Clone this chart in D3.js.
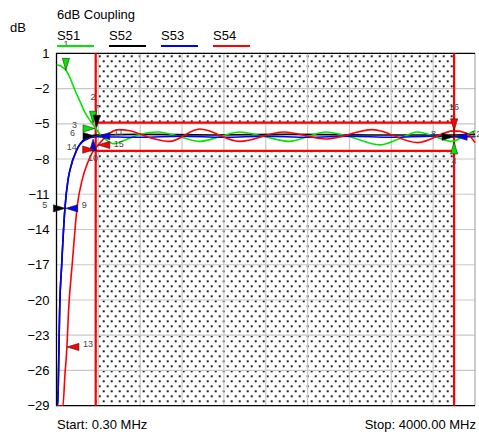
<!DOCTYPE html>
<html>
<head>
<meta charset="utf-8">
<script src="https://cdn.jsdelivr.net/npm/d3@7"></script>
<style>
  body { margin: 0; background: #fff; }
  svg { display: block; font-family: Arial, "Liberation Sans", sans-serif; }
</style>
</head>
<body>
<div id="chart"></div>
<script>
// ---- data ----
const chartTitle = "6dB Coupling";
const traceNames = ["S51", "S52", "S53", "S54"];
const traceColors = ["#00e600", "#000000", "#0000ff", "#ff0000"];
const yTicks = [1, -2, -5, -8, -11, -14, -17, -20, -23, -26, -29];
const startMHz = 0.3, stopMHz = 4000;
const limitFreqs = [375, 3800];      // vertical limit lines (MHz)
const limitDb = [-4.9, -7.3];        // upper / lower limit (dB)

// S51 (green)
const s51Freq = [0.3, 35, 60, 90, 130, 175, 225, 270, 320, 370, 415, 475, 550, 650, 800, 970, 1180, 1370, 1560, 1750, 1990, 2230, 2400, 2570, 2800, 3090, 3270, 3450, 3620, 3780, 3900, 4000];
const s51Db   = [0.0, -0.05, -0.2, -0.45, -1.1, -2.1, -3.1, -4.0, -4.7, -5.3, -5.9, -6.4, -6.7, -6.4, -5.9, -5.7, -6.1, -6.5, -6.1, -5.7, -6.1, -6.5, -6.1, -5.7, -6.1, -6.8, -6.3, -5.7, -6.1, -6.5, -6.0, -5.6];
// S52 (black)
const s52Freq = [0.3, 12, 20, 30, 50, 80, 110, 130, 195, 270, 385, 800, 1500, 2200, 3000, 3800, 4000];
const s52Db   = [-29, -29, -26, -21, -17, -12.3, -9.8, -8.9, -7.2, -6.3, -5.95, -5.9, -5.95, -5.9, -5.95, -5.95, -5.9];
// S53 (blue)
const s53Freq = [0.3, 12, 20, 30, 50, 80, 110, 130, 195, 270, 385, 800, 1200, 1600, 2000, 2400, 2800, 3200, 3600, 3800, 4000];
const s53Db   = [-29, -29, -26, -21, -17, -12.3, -9.8, -8.9, -7.2, -6.4, -6.1, -6.15, -6.05, -6.15, -6.05, -6.15, -6.05, -6.15, -6.05, -6.1, -6.1];
// S54 (red)
const s54Freq = [0.3, 62, 80, 100, 115, 150, 200, 245, 290, 340, 400, 480, 600, 700, 900, 1080, 1370, 1750, 2170, 2580, 3020, 3450, 3800, 3920, 4000];
const s54Db   = [-29, -29, -26.5, -24, -21, -17, -11.9, -9.8, -8.5, -7.5, -6.8, -6.0, -5.5, -5.6, -6.2, -6.5, -5.45, -6.5, -5.7, -6.3, -5.5, -6.6, -5.6, -5.8, -6.6];

// markers: id, trace index, frequency, level, triangle pointing direction
const markerIds    = [1, 2, 3, 4, 5, 6, 7, 8, 9, 10, 11, 12, 13, 14, 15, 16];
const markerTrace  = [0, 0, 0, 0, 1, 1, 1, 1, 2, 2, 2, 2, 3, 3, 3, 3];
const markerFreq   = [90, 350, 368, 3800, 85, 368, 385, 3800, 88, 350, 395, 3810, 100, 365, 395, 3800];
const markerDb     = [-0.45, -4.95, -5.4, -6.55, -12.2, -6.05, -5.3, -6.1, -12.2, -6.3, -6.05, -6.1, -24.0, -7.2, -6.8, -5.6];
const markerDir    = ["down", "down", "right", "up", "right", "right", "down", "right", "left", "up", "left", "left", "left", "right", "left", "down"];

// ---- layout ----
const W = 479, H = 434;
const plot = { left: 56.5, right: 475, top: 53.3, bottom: 405.7 };

const svg = d3.select("#chart").append("svg")
    .attr("width", W)
    .attr("height", H);

const x = d3.scaleLinear().domain([startMHz, stopMHz]).range([plot.left, plot.right]);
const y = d3.scaleLinear().domain([1, -29]).range([plot.top, plot.bottom]);

// dotted fill pattern
const defs = svg.append("defs");
const pat = defs.append("pattern")
    .attr("id", "dots")
    .attr("patternUnits", "userSpaceOnUse")
    .attr("width", 8).attr("height", 10)
    .attr("x", x(limitFreqs[0]) + 1).attr("y", plot.top);
pat.append("rect").attr("x", 2).attr("y", 2).attr("width", 2).attr("height", 2).attr("fill", "#222");
pat.append("rect").attr("x", 6).attr("y", 7).attr("width", 2).attr("height", 2).attr("fill", "#222");

defs.append("clipPath").attr("id", "plotClip")
    .append("rect")
    .attr("x", plot.left).attr("y", plot.top - 14)
    .attr("width", plot.right - plot.left + 10)
    .attr("height", plot.bottom - plot.top + 14);

// fail regions
svg.append("rect")
    .attr("x", x(limitFreqs[0])).attr("y", plot.top)
    .attr("width", x(limitFreqs[1]) - x(limitFreqs[0]))
    .attr("height", y(limitDb[0]) - plot.top)
    .attr("fill", "url(#dots)");
svg.append("rect")
    .attr("x", x(limitFreqs[0])).attr("y", y(limitDb[1]))
    .attr("width", x(limitFreqs[1]) - x(limitFreqs[0]))
    .attr("height", plot.bottom - y(limitDb[1]))
    .attr("fill", "url(#dots)");

// grid
const grid = svg.append("g").attr("class", "grid");
grid.selectAll("line.h")
    .data(yTicks.slice(1, -1))
    .enter().append("line")
    .attr("class", "h")
    .attr("x1", plot.left).attr("x2", plot.right)
    .attr("y1", d => y(d)).attr("y2", d => y(d))
    .attr("stroke", "#c8c8c8").attr("stroke-width", 1.2);
grid.selectAll("line.v")
    .data(d3.range(1, 10).map(i => startMHz + i * (stopMHz - startMHz) / 10))
    .enter().append("line")
    .attr("class", "v")
    .attr("y1", plot.top).attr("y2", plot.bottom)
    .attr("x1", d => x(d)).attr("x2", d => x(d))
    .attr("stroke", "#c8c8c8").attr("stroke-width", 1.2);

// frame
svg.append("line").attr("x1", plot.right).attr("x2", plot.right)
    .attr("y1", plot.top).attr("y2", plot.bottom)
    .attr("stroke", "#aaa").attr("stroke-width", 1.2);
svg.append("path")
    .attr("d", `M${plot.right},${plot.top}H${plot.left}V${plot.bottom}H${plot.right}`)
    .attr("fill", "none").attr("stroke", "#000").attr("stroke-width", 1.3);

// y axis labels
svg.append("g")
    .attr("transform", `translate(${plot.left - 7},0)`)
    .call(d3.axisLeft(y).tickValues(yTicks).tickSize(0).tickPadding(0))
    .call(g => g.select(".domain").remove())
    .selectAll("text")
    .attr("font-size", 13).attr("font-family", "Arial, 'Liberation Sans', sans-serif")
    .attr("fill", "#000");

// limit lines
const lim = svg.append("g").attr("stroke", "#ff0000").attr("stroke-width", 2.2);
limitFreqs.forEach(f => {
    lim.append("line").attr("x1", x(f)).attr("x2", x(f)).attr("y1", plot.top).attr("y2", plot.bottom);
});
limitDb.forEach(v => {
    lim.append("line").attr("x1", x(limitFreqs[0])).attr("x2", x(limitFreqs[1])).attr("y1", y(v)).attr("y2", y(v));
});

// traces
const traces = [
    { freq: s51Freq, db: s51Db },
    { freq: s52Freq, db: s52Db },
    { freq: s53Freq, db: s53Db },
    { freq: s54Freq, db: s54Db }
];
const line = d3.line()
    .x(d => x(d[0]))
    .y(d => y(d[1]))
    .curve(d3.curveMonotoneX);

const traceG = svg.append("g").attr("clip-path", "url(#plotClip)");
[1, 0, 2, 3].forEach(i => {
    traceG.append("path")
        .datum(traces[i].freq.map((f, k) => [f, traces[i].db[k]]))
        .attr("d", line)
        .attr("fill", "none")
        .attr("stroke", traceColors[i])
        .attr("stroke-width", 1.6);
});

// markers
const triLen = 12, triHalf = 3.6;
const triPath = {
    down:  `M0,0L${-triHalf},${-triLen}L${triHalf},${-triLen}Z`,
    up:    `M0,0L${-triHalf},${triLen}L${triHalf},${triLen}Z`,
    left:  `M0,0L${triLen},${-triHalf}L${triLen},${triHalf}Z`,
    right: `M0,0L${-triLen},${-triHalf}L${-triLen},${triHalf}Z`
};
const labelPos = {
    down:  { dx: 0, dy: -23, anchor: "middle" },
    up:    { dx: 0, dy: 22, anchor: "middle" },
    left:  { dx: 16, dy: 0, anchor: "start" },
    right: { dx: -18, dy: 0, anchor: "end" }
};
// small label nudges where labels would collide
const labelNudge = { 7: [0, 7], 15: [0, 2.5], 11: [0, -1.5], 16: [0, 2], 6: [-2, 0] };
const markers = markerIds.map((id, i) => ({
    id, trace: markerTrace[i], f: markerFreq[i], v: markerDb[i], dir: markerDir[i]
}));
const mk = svg.append("g").selectAll("g.marker")
    .data(markers)
    .enter().append("g")
    .attr("class", "marker")
    .attr("transform", d => `translate(${x(d.f)},${y(d.v)})`);
mk.append("path")
    .attr("d", d => triPath[d.dir])
    .attr("fill", d => traceColors[d.trace])
    .attr("stroke", "#222").attr("stroke-width", 0.6);
mk.append("text")
    .attr("x", d => labelPos[d.dir].dx + (labelNudge[d.id] ? labelNudge[d.id][0] : 0))
    .attr("y", d => labelPos[d.dir].dy + (labelNudge[d.id] ? labelNudge[d.id][1] : 0))
    .attr("text-anchor", d => labelPos[d.dir].anchor)
    .attr("font-size", 9)
    .attr("fill", "#444")
    .text(d => d.id);

// title, legend, footer
svg.append("text").attr("x", 57).attr("y", 18.5).attr("font-size", 13).text(chartTitle);
svg.append("text").attr("x", 10).attr("y", 32).attr("font-size", 13).text("dB");

const legendX = d3.scalePoint().domain(traceNames).range([57, 213]);
const lg = svg.append("g").selectAll("g")
    .data(traceNames)
    .enter().append("g")
    .attr("transform", d => `translate(${legendX(d)},0)`);
lg.append("text").attr("y", 40).attr("font-size", 13).text(d => d);
lg.append("line")
    .attr("x1", 0).attr("x2", 37).attr("y1", 46).attr("y2", 46)
    .attr("stroke", (d, i) => traceColors[i]).attr("stroke-width", 2);

svg.append("text").attr("x", 57).attr("y", 429).attr("font-size", 13)
    .text(`Start: ${startMHz.toFixed(2)} MHz`);
svg.append("text").attr("x", 476).attr("y", 429).attr("font-size", 13)
    .attr("text-anchor", "end")
    .text(`Stop: ${stopMHz.toFixed(2)} MHz`);
</script>
</body>
</html>
